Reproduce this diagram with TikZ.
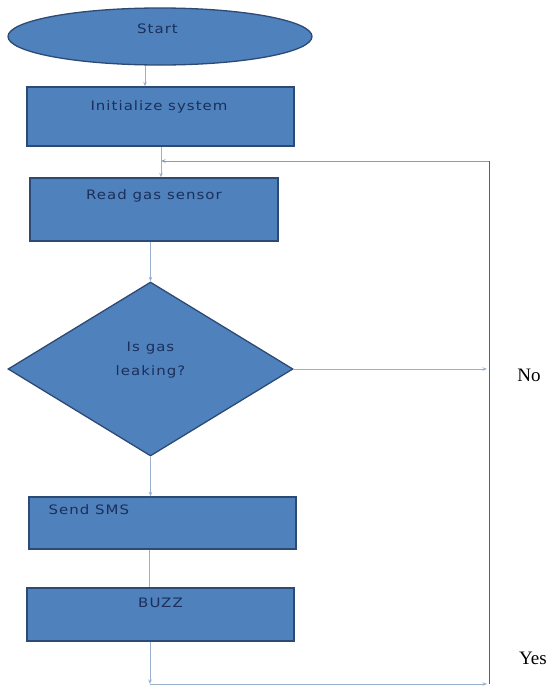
\documentclass[tikz,border=0pt]{standalone}
\usepackage{fontspec}
\newfontfamily\nodefont[FakeStretch=1.15,LetterSpace=8]{DejaVu Sans}
\newfontfamily\answerfont{Liberation Serif}
\usetikzlibrary{shapes.geometric,arrows.meta}
\definecolor{boxfill}{HTML}{4F81BD}
\definecolor{boxline}{HTML}{2C4A74}
\definecolor{boxtext}{HTML}{1B2F5A}
\definecolor{connc}{HTML}{9AAFCB}
\definecolor{loopc}{HTML}{8C9BB0}
\definecolor{loopdark}{HTML}{55606F}
\begin{document}
\begin{tikzpicture}[x=1pt,y=-1pt,
  shapebox/.style={draw=boxline,fill=boxfill,line width=1.3pt,inner sep=0pt},
  procbox/.style={shapebox,rectangle},
  txt/.style={font=\nodefont\fontsize{13}{24}\selectfont,text=boxtext,inner sep=0pt,text height=0.75em,text depth=0.25em},
  txtml/.style={font=\nodefont\fontsize{13}{24}\selectfont,text=boxtext,inner sep=0pt,align=center},
  connarrow/.style={draw=connc,line width=0.8pt,-{Stealth[length=4.5pt,width=3.5pt]}},
  connline/.style={draw=connc,line width=0.8pt},
  answer/.style={font=\answerfont\fontsize{19}{22}\selectfont,text=black,inner sep=0pt}
]
\useasboundingbox (0,0) rectangle (549,686);

% shapes
\node[ellipse,shapebox,minimum width=304pt,minimum height=57pt,
      label={[txt,xshift=-2.5pt,yshift=6pt]center:Start}] (start) at (160,36.5) {};
\node[procbox,minimum width=267pt,minimum height=59pt,
      label={[txt,xshift=-1.5pt,yshift=8.5pt]center:Initialize system}] (init) at (160.5,116.5) {};
\node[procbox,minimum width=248pt,minimum height=63pt,
      label={[txt,yshift=12.5pt]center:Read gas sensor}] (read) at (154,209.5) {};
\node[diamond,shapebox,minimum width=285pt,minimum height=174pt,
      label={[txtml,yshift=9pt]center:{Is gas\\leaking?}}] (dec) at (150.5,369) {};
\node[procbox,minimum width=267pt,minimum height=52pt,
      label={[txt,anchor=west,xshift=20pt,yshift=11pt]west:Send SMS}] (sms) at (162.5,523) {};
\node[procbox,minimum width=267pt,minimum height=53pt,
      label={[txt,yshift=9.5pt]center:BUZZ}] (buzz) at (160.5,614.5) {};

% answers
\node[answer] (no) at (529,375) {No};
\node[answer] (yes) at (533,658) {Yes};

% loop points
\coordinate (noend) at (487,369);
\coordinate (botleft) at (150,684);
\coordinate (botright) at (487,684);
\coordinate (corner) at (489,684);
\coordinate (looptop) at (489,161);
\coordinate (join) at (161,161);

% connectors
\draw[connarrow] ([xshift=-15pt]start.south) -- ([xshift=-15.5pt]init.north);
\draw[connarrow] ([xshift=0.5pt]init.south) -- ([xshift=7pt]read.north);
\draw[connarrow] ([xshift=-3.5pt]read.south) -- (dec.north);
\draw[connarrow] (dec.south) -- ([xshift=-12pt]sms.north);
\draw[connline] ([xshift=-13pt]sms.south) -- ([xshift=-11pt]buzz.north);
\draw[connarrow] ([xshift=-10.5pt]buzz.south) -- (botleft);
\draw[connarrow] (botleft) -- (botright);
\draw[connarrow] (dec.east) -- (noend);
\draw[draw=loopdark,line width=0.8pt] (corner) -- (looptop);
\draw[draw=loopc,line width=0.8pt,-{Stealth[length=4.5pt,width=3.5pt]}] (looptop) -- (join);
\end{tikzpicture}
\end{document}
